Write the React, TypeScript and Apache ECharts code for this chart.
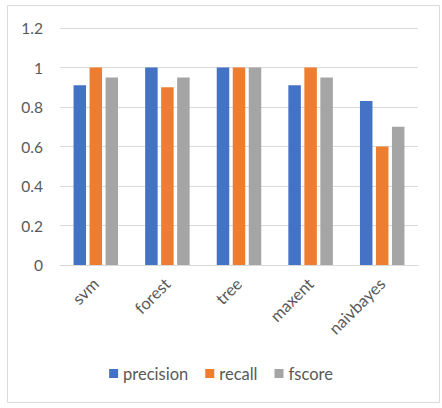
import React, { useEffect, useRef } from "react";
import * as echarts from "echarts";

const categories = ["svm", "forest", "tree", "maxent", "naivbayes"];
const precision = [0.91, 1, 1, 0.91, 0.83];
const recall = [1, 0.9, 1, 1, 0.6];
const fscore = [0.95, 0.95, 1, 0.95, 0.7];
const seriesNames = ["precision", "recall", "fscore"];
const colors = ["#4472C4", "#ED7D31", "#A5A5A5"];

export default function App() {
  const ref = useRef<HTMLDivElement>(null);
  useEffect(() => {
    const chart = echarts.init(ref.current!, null, { renderer: "svg" });
    const font = "Lato, 'Open Sans', sans-serif";
    const data = [precision, recall, fscore];
    chart.setOption({
      animation: false,
      backgroundColor: "#ffffff",
      textStyle: { fontFamily: font },
      graphic: [
        {
          type: "rect",
          shape: { x: 7.5, y: 5.5, width: 432, height: 397 },
          style: { fill: "none", stroke: "#d9d9d9", lineWidth: 1 },
          silent: true,
        },
      ],
      grid: { left: 60, right: 24, top: 28, bottom: 143 },
      legend: {
        data: seriesNames,
        bottom: 21,
        left: "center",
        icon: "rect",
        itemWidth: 9,
        itemHeight: 9,
        itemGap: 17,
        itemStyle: { borderWidth: 0 },
        textStyle: { fontFamily: font, fontSize: 16.5, color: "#595959" },
      },
      xAxis: {
        type: "category",
        data: categories,
        axisLine: { lineStyle: { color: "#d9d9d9" } },
        axisTick: { show: false },
        axisLabel: {
          rotate: 45,
          margin: 16,
          fontSize: 16.5,
          color: "#595959",
          fontFamily: font,
        },
      },
      yAxis: {
        type: "value",
        min: 0,
        max: 1.2,
        interval: 0.2,
        axisLine: { show: false },
        axisTick: { show: false },
        splitLine: { lineStyle: { color: "#d9d9d9" } },
        axisLabel: {
          fontSize: 15.5,
          color: "#595959",
          margin: 17,
          fontFamily: font,
          formatter: (v: number) => String(Math.round(v * 10) / 10),
        },
      },
      series: seriesNames.map((name, i) => ({
        name,
        type: "bar",
        data: data[i],
        barWidth: 12.5,
        barGap: "28%",
        itemStyle: { color: colors[i] },
      })),
    });
    return () => chart.dispose();
  }, []);
  return (
    <div
      ref={ref}
      style={{ position: "absolute", left: 0, top: 0, width: 442, height: 408 }}
    />
  );
}
